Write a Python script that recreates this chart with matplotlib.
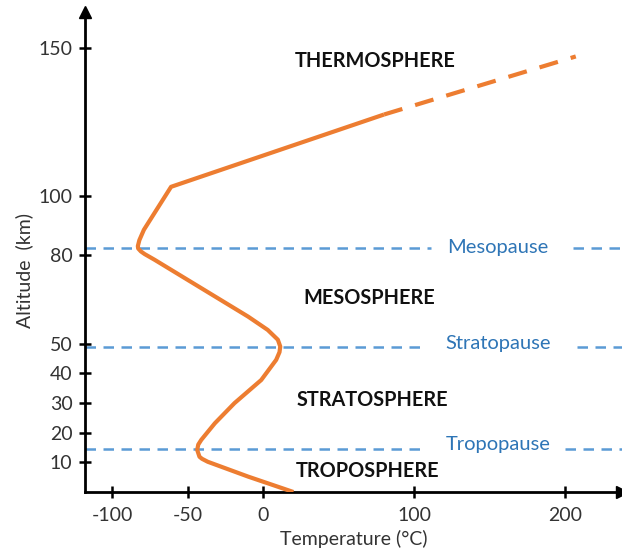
import matplotlib.pyplot as plt

plt.rcParams['font.family'] = ['Lato', 'DejaVu Sans']
plt.rcParams['axes.unicode_minus'] = False

# temperature profile (deg C) vs altitude (km)
temp = [20, -10, -36.7, -40.5, -42.2, -43.7, -43, -41, -32, -19, -1.3, 8.6, 10.8, 11.3, 9.7, 3, -10,
        -72, -78.5, -81, -82.8, -83, -82, -79, -61, 80]
alt = [0, 5.2, 10.2, 11.2, 11.9, 14.2, 16, 17.6, 23.2, 30, 37.8, 44.6, 47.2, 49.1, 51.4, 54.7, 59.2,
       78.4, 80.3, 81.2, 82.2, 83, 85, 88.5, 103, 127.4]
# extrapolated part, drawn dashed
temp_ext = [80, 207]
alt_ext = [127.4, 147]

# boundaries: name, altitude, left segment end, right segment start (deg C)
pause_names = ['Mesopause', 'Stratopause', 'Tropopause']
pause_alt = [82.4, 49, 14.5]
pause_left_end = [111, 104, 104]
pause_right_start = [205, 208, 200]
pause_label_alt = [82.4, 50, 16]

layer_names = ['THERMOSPHERE', 'MESOSPHERE', 'STRATOSPHERE', 'TROPOSPHERE']
layer_x = [74, 70, 72, 69]
layer_y = [145.6, 65.5, 31, 7]

xticks = [-100, -50, 0, 100, 200]
yticks = [10, 20, 30, 40, 50, 80, 100, 150]

orange = '#ED7D31'
blue = '#5B9BD5'
textcol = '#333333'

fig = plt.figure(figsize=(6.22, 5.5), dpi=100)
ax = fig.add_axes([85 / 622, 1 - 492 / 550, 537 / 622, 480 / 550])
ax.set_xlim(-118, 237.6)
ax.set_ylim(0, 162)

for a, le, rs in zip(pause_alt, pause_left_end, pause_right_start):
    ax.plot([-118, le], [a, a], color=blue, lw=1.8, ls=(0, (4.2, 3)), zorder=1)
    ax.plot([rs, 237.6], [a, a], color=blue, lw=1.8, ls=(0, (4.2, 3)), zorder=1)
for name, a in zip(pause_names, pause_label_alt):
    ax.text(155.5, a, name, color='#2E75B6', fontsize=14.5, ha='center', va='center')

ax.plot(temp, alt, color=orange, lw=3, solid_joinstyle='round', solid_capstyle='butt', zorder=3)
ax.plot(temp_ext, alt_ext, color=orange, lw=3, ls=(0, (4.6, 3.2)), zorder=3)

for name, x, y in zip(layer_names, layer_x, layer_y):
    ax.text(x, y, name, fontsize=14.3, fontweight='bold', color='#111111', ha='center', va='center')

for s in ['top', 'right']:
    ax.spines[s].set_visible(False)
for s in ['left', 'bottom']:
    ax.spines[s].set_linewidth(2)
ax.plot(0, 1, '^', color='black', ms=8, transform=ax.transAxes, clip_on=False)
ax.plot(1, 0, '>', color='black', ms=8, transform=ax.transAxes, clip_on=False)

ax.set_xticks(xticks)
ax.set_yticks(yticks)
ax.tick_params(direction='inout', length=8, width=1.8, labelsize=14, labelcolor=textcol)
ax.tick_params(axis='y', pad=5)
ax.tick_params(axis='x', pad=7)
ax.set_xlabel('Temperature (°C)', fontsize=14, color=textcol, labelpad=4)
ax.set_ylabel('Altitude  (km)', fontsize=14, color=textcol)
ax.yaxis.set_label_coords(-0.097, 0.4625)

fig.savefig('out.png', dpi=100)
